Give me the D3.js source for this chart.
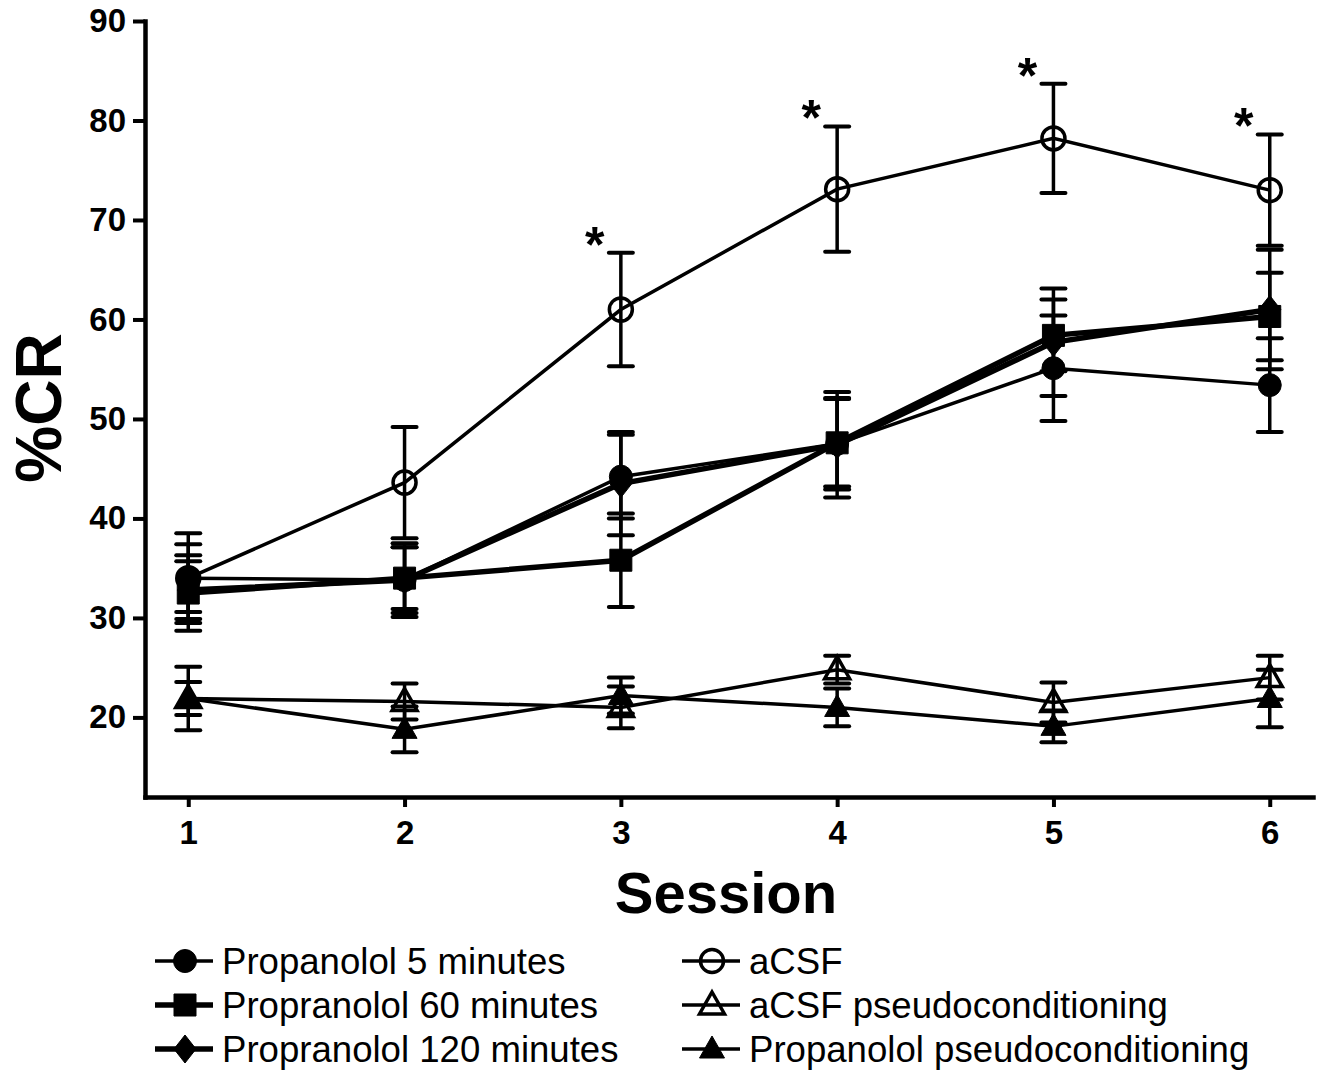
<!DOCTYPE html>
<html>
<head>
<meta charset="utf-8">
<script src="https://cdn.jsdelivr.net/npm/d3@7"></script>
<style>
  body { margin: 0; background: #fff; }
  svg { display: block; font-family: Arial, "Liberation Sans", sans-serif; }
</style>
</head>
<body>
<div id="chart"></div>
<script>
// sessions and group means / SEM
var sessions = [1, 2, 3, 4, 5, 6];
var yTicks = [20, 30, 40, 50, 60, 70, 80, 90];

var acsfMean = [34.0, 43.6, 61.0, 73.1, 78.2, 73.0];
var acsfSem = [4.5, 5.6, 5.7, 6.3, 5.5, 5.6];
var prop5Mean = [34.0, 33.8, 44.2, 47.5, 55.1, 53.4];
var prop5Sem = [3.4, 3.7, 4.2, 4.6, 5.3, 4.7];
var prop60Mean = [32.5, 34.0, 35.8, 47.6, 58.4, 60.3];
var prop60Sem = [3.8, 3.1, 4.7, 4.4, 3.6, 4.4];
var prop120Mean = [32.8, 33.8, 43.5, 47.4, 57.7, 61.0];
var prop120Sem = [2.9, 3.3, 5.2, 5.3, 5.4, 6.0];
var acsfPseudoMean = [21.9, 21.6, 21.0, 24.8, 21.5, 24.0];
var acsfPseudoSem = [1.65, 1.8, 2.1, 1.4, 2.0, 2.2];
var propPseudoMean = [21.9, 18.8, 22.2, 21.0, 19.1, 21.9];
var propPseudoSem = [3.2, 2.3, 1.8, 1.9, 1.6, 2.9];

var starSessions = [3, 4, 5, 6];

var legendLabels = ["Propanolol 5 minutes", "Propranolol 60 minutes", "Propranolol 120 minutes",
                    "aCSF", "aCSF pseudoconditioning", "Propanolol pseudoconditioning"];

function makeSeries(mean, sem) {
  return sessions.map(function(s, i) { return {x: s, y: mean[i], e: sem[i]}; });
}

// drawing order (last on top)
var series = [
  {name: legendLabels[4], data: makeSeries(acsfPseudoMean, acsfPseudoSem), shape: "triangle", fill: false, lw: 3.5},
  {name: legendLabels[5], data: makeSeries(propPseudoMean, propPseudoSem), shape: "triangle", fill: true, lw: 3.5},
  {name: legendLabels[3], data: makeSeries(acsfMean, acsfSem), shape: "circle", fill: false, lw: 3.5},
  {name: legendLabels[0], data: makeSeries(prop5Mean, prop5Sem), shape: "circle", fill: true, lw: 3.5},
  {name: legendLabels[2], data: makeSeries(prop120Mean, prop120Sem), shape: "diamond", fill: true, lw: 5.5},
  {name: legendLabels[1], data: makeSeries(prop60Mean, prop60Sem), shape: "square", fill: true, lw: 5.5}
];

var width = 1326, height = 1072;

var svg = d3.select("#chart").append("svg")
            .attr("width", width)
            .attr("height", height);

var x = d3.scaleLinear().domain([0.8, 6.2]).range([145, 1313]),
    y = d3.scaleLinear().domain([12, 90]).range([797, 21]);

function symbolPath(shape) {
  if (shape == "circle") return d3.symbol().type(d3.symbolCircle).size(Math.PI * 11.5 * 11.5)();
  if (shape == "square") return d3.symbol().type(d3.symbolSquare).size(22 * 22)();
  if (shape == "triangle") return "M0,-13L12.5,9L-12.5,9Z";
  // diamond
  return "M0,-14L11,0L0,14L-11,0Z";
}

// axes
var yAxis = svg.append("g")
   .attr("transform", "translate(" + x(0.8) + ",0)")
   .call(d3.axisLeft(y).tickValues(yTicks).tickSize(12).tickSizeOuter(0).tickPadding(7));

var xAxis = svg.append("g")
   .attr("transform", "translate(0," + y(12) + ")")
   .call(d3.axisBottom(x).tickValues(sessions).tickFormat(d3.format("d"))
           .tickSize(10).tickSizeOuter(0).tickPadding(14));

[yAxis, xAxis].forEach(function(ax) {
  ax.select(".domain").attr("stroke", "#000").attr("stroke-width", 4.5).attr("stroke-linecap", "square");
  ax.selectAll(".tick line").attr("stroke", "#000").attr("stroke-width", 4);
  ax.selectAll(".tick text")
    .attr("fill", "#000")
    .style("font-family", "Arial, 'Liberation Sans', sans-serif")
    .style("font-size", "33px")
    .style("font-weight", "bold");
});

// axis titles
svg.append("text")
   .attr("x", x(3.5) - 3)
   .attr("y", 913)
   .attr("text-anchor", "middle")
   .style("font-size", "58px")
   .style("font-weight", "bold")
   .text("Session");

svg.append("text")
   .attr("transform", "translate(61," + 408 + ") rotate(-90)")
   .attr("text-anchor", "middle")
   .style("font-size", "64px")
   .style("font-weight", "bold")
   .text("%CR");

var line = d3.line()
             .x(function(d) { return x(d.x); })
             .y(function(d) { return y(d.y); });

var plot = svg.append("g");

series.forEach(function(s) {
  var g = plot.append("g");

  // error bars
  var eb = g.selectAll(".eb").data(s.data).enter().append("g");
  eb.append("line")
    .attr("x1", function(d) { return x(d.x); })
    .attr("x2", function(d) { return x(d.x); })
    .attr("y1", function(d) { return y(d.y - d.e); })
    .attr("y2", function(d) { return y(d.y + d.e); })
    .attr("stroke", "#000").attr("stroke-width", 3.5);
  [-1, 1].forEach(function(sign) {
    eb.append("line")
      .attr("x1", function(d) { return x(d.x) - 12; })
      .attr("x2", function(d) { return x(d.x) + 12; })
      .attr("y1", function(d) { return y(d.y + sign * d.e); })
      .attr("y2", function(d) { return y(d.y + sign * d.e); })
      .attr("stroke", "#000").attr("stroke-width", 4).attr("stroke-linecap", "round");
  });

  g.append("path")
   .attr("d", line(s.data))
   .attr("fill", "none")
   .attr("stroke", "#000")
   .attr("stroke-width", s.lw);

  g.selectAll(".pt").data(s.data).enter().append("path")
   .attr("transform", function(d) { return "translate(" + x(d.x) + "," + y(d.y) + ")"; })
   .attr("d", symbolPath(s.shape))
   .attr("fill", s.fill ? "#000" : "none")
   .attr("stroke", "#000")
   .attr("stroke-width", s.fill ? 1 : 3.5);
});

// significance stars above aCSF
svg.selectAll(".star").data(starSessions).enter().append("text")
   .attr("x", function(s) { return x(s) - 26; })
   .attr("y", function(s) { var i = sessions.indexOf(s); return y(acsfMean[i] + acsfSem[i]) + 9; })
   .attr("text-anchor", "middle")
   .style("font-size", "50px")
   .style("font-weight", "bold")
   .text("*");

// legend
var legendItems = [
  {label: legendLabels[0], shape: "circle", fill: true, lw: 3.5, col: 0, row: 0},
  {label: legendLabels[1], shape: "square", fill: true, lw: 5.5, col: 0, row: 1},
  {label: legendLabels[2], shape: "diamond", fill: true, lw: 5.5, col: 0, row: 2},
  {label: legendLabels[3], shape: "circle", fill: false, lw: 3.5, col: 1, row: 0},
  {label: legendLabels[4], shape: "triangle", fill: false, lw: 3.5, col: 1, row: 1},
  {label: legendLabels[5], shape: "triangle", fill: true, lw: 3.5, col: 1, row: 2}
];
var colX = [155, 682], rowY = [961, 1005, 1049];

var leg = svg.selectAll(".leg").data(legendItems).enter().append("g")
   .attr("transform", function(d) { return "translate(" + colX[d.col] + "," + rowY[d.row] + ")"; });

leg.append("line")
   .attr("x1", 0).attr("x2", 58).attr("y1", 0).attr("y2", 0)
   .attr("stroke", "#000")
   .attr("stroke-width", function(d) { return d.lw; });

leg.append("path")
   .attr("transform", "translate(30,0)")
   .attr("d", function(d) { return symbolPath(d.shape); })
   .attr("fill", function(d) { return d.fill ? "#000" : "none"; })
   .attr("stroke", "#000")
   .attr("stroke-width", function(d) { return d.fill ? 1 : 3.5; });

leg.append("text")
   .attr("x", 67)
   .attr("y", 13)
   .style("font-size", "36.6px")
   .text(function(d) { return d.label; });
</script>
</body>
</html>
